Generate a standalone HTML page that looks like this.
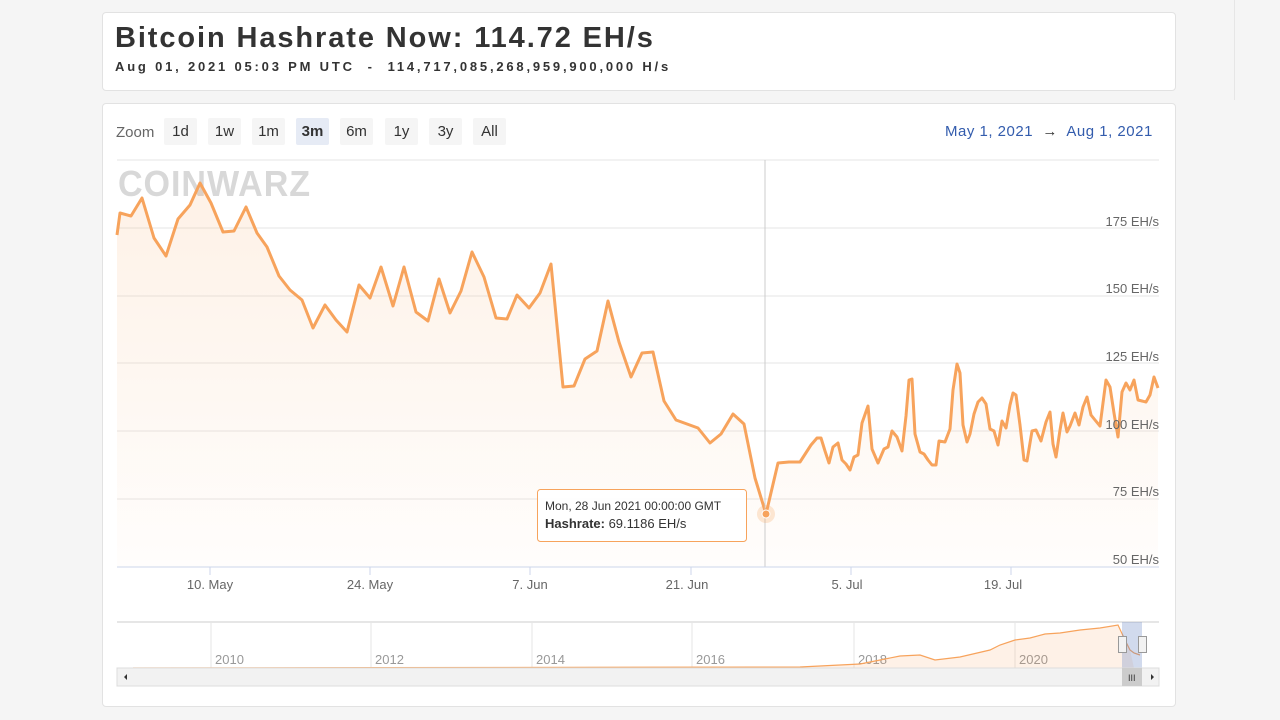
<!DOCTYPE html>
<html><head><meta charset="utf-8"><style>
body{margin:0;width:1280px;height:720px;background:#f5f5f5;font-family:"Liberation Sans",sans-serif;position:relative;overflow:hidden}
.card{position:absolute;background:#fff;border:1px solid #e2e2e2;border-radius:4px}
h1{position:absolute;left:12px;top:9px;margin:0;font-size:29px;font-weight:bold;letter-spacing:1.9px;color:#333}
.sub{position:absolute;left:12px;top:46px;font-size:13px;letter-spacing:2.8px;color:#333;font-weight:bold}
.btn{position:absolute;top:118px;height:27px;width:33px;background:#f5f5f5;border-radius:2px;font-size:15px;color:#333;text-align:center;line-height:27px}
</style></head><body>
<div class="card" style="left:102px;top:12px;width:1072px;height:77px">
<h1>Bitcoin Hashrate Now: 114.72 EH/s</h1>
<div class="sub">Aug 01, 2021 05:03 PM UTC &nbsp;-&nbsp; 114,717,085,268,959,900,000 H/s</div>
</div>
<div style="position:absolute;left:1234px;top:0;width:1px;height:100px;background:#e6e6e6"></div>
<div class="card" style="left:102px;top:103px;width:1072px;height:602px"></div>
<div style="position:absolute;left:116px;top:124px;font-size:15px;color:#666">Zoom</div>
<div class="btn" style="left:164px">1d</div>
<div class="btn" style="left:208px">1w</div>
<div class="btn" style="left:252px">1m</div>
<div class="btn" style="left:296px;background:#e6ebf5;font-weight:bold">3m</div>
<div class="btn" style="left:340px">6m</div>
<div class="btn" style="left:385px">1y</div>
<div class="btn" style="left:429px">3y</div>
<div class="btn" style="left:473px">All</div>
<div style="position:absolute;left:945px;top:123px;font-size:15px;color:#335cad;letter-spacing:0.5px">May 1, 2021 &nbsp;<span style="color:#333">→</span>&nbsp; Aug 1, 2021</div>
<svg width="1280" height="720" style="position:absolute;left:0;top:0">
<defs><linearGradient id="g" x1="0" y1="0" x2="0" y2="1"><stop offset="0" stop-color="#f7a35c" stop-opacity="0.15"/><stop offset="1" stop-color="#f7a35c" stop-opacity="0.02"/></linearGradient></defs>
<g stroke="#e6e6e6" stroke-width="1">
<line x1="117" y1="160" x2="1159" y2="160"/><line x1="117" y1="228" x2="1159" y2="228"/><line x1="117" y1="296" x2="1159" y2="296"/><line x1="117" y1="363" x2="1159" y2="363"/><line x1="117" y1="431" x2="1159" y2="431"/><line x1="117" y1="499" x2="1159" y2="499"/>
</g>
<text x="118" y="196" font-size="36" font-weight="bold" fill="#d8d8d8" font-family="Liberation Sans" letter-spacing="1" textLength="193" lengthAdjust="spacingAndGlyphs">COINWARZ</text>
<polygon fill="url(#g)" points="117,567 117,235 120,213 131,216 142,198 154,238 166,256 178,219 190,205 200,183 211,203 223,232 234,231 246,207 257,233 267,247 279,276 290,290 302,300 313,328 325,305 336,320 347,332 359,285 370,298 381,267 393,306 404,267 416,312 428,321 439,279 450,313 461,291 472,252 484,277 496,318 507,319 517,295 529,308 540,293 551,264 563,387 574,386 585,359 597,351 608,301 619,342 631,377 642,353 653,352 664,401 676,420 687,424 698,428 710,443 721,434 733,414 744,424 755,478 766,514 778,463 789,462 800,462 811,445 817,438 821,438 825,451 829,463 833,447 838,443 842,460 846,464 850,470 854,457 858,455 862,423 868,406 872,449 878,463 884,449 888,447 892,431 897,437 902,451 906,416 909,380 912,379 915,434 920,452 924,454 928,460 932,465 936,465 939,441 945,442 950,429 953,390 957,364 960,373 963,425 967,442 970,434 974,414 978,402 982,398 986,404 990,429 994,431 998,445 1002,421 1006,428 1010,405 1013,393 1016,395 1020,425 1024,460 1027,461 1032,431 1036,430 1041,441 1046,422 1050,412 1053,444 1056,457 1060,430 1063,413 1067,432 1070,426 1075,413 1079,425 1083,407 1087,397 1091,415 1095,420 1100,426 1106,380 1110,387 1114,413 1118,437 1122,392 1126,383 1130,390 1134,380 1138,400 1142,401 1146,402 1150,395 1154,377 1158,388 1158,567"/>
<polyline fill="none" stroke="#f7a35c" stroke-width="3" stroke-linejoin="round" points="117,235 120,213 131,216 142,198 154,238 166,256 178,219 190,205 200,183 211,203 223,232 234,231 246,207 257,233 267,247 279,276 290,290 302,300 313,328 325,305 336,320 347,332 359,285 370,298 381,267 393,306 404,267 416,312 428,321 439,279 450,313 461,291 472,252 484,277 496,318 507,319 517,295 529,308 540,293 551,264 563,387 574,386 585,359 597,351 608,301 619,342 631,377 642,353 653,352 664,401 676,420 687,424 698,428 710,443 721,434 733,414 744,424 755,478 766,514 778,463 789,462 800,462 811,445 817,438 821,438 825,451 829,463 833,447 838,443 842,460 846,464 850,470 854,457 858,455 862,423 868,406 872,449 878,463 884,449 888,447 892,431 897,437 902,451 906,416 909,380 912,379 915,434 920,452 924,454 928,460 932,465 936,465 939,441 945,442 950,429 953,390 957,364 960,373 963,425 967,442 970,434 974,414 978,402 982,398 986,404 990,429 994,431 998,445 1002,421 1006,428 1010,405 1013,393 1016,395 1020,425 1024,460 1027,461 1032,431 1036,430 1041,441 1046,422 1050,412 1053,444 1056,457 1060,430 1063,413 1067,432 1070,426 1075,413 1079,425 1083,407 1087,397 1091,415 1095,420 1100,426 1106,380 1110,387 1114,413 1118,437 1122,392 1126,383 1130,390 1134,380 1138,400 1142,401 1146,402 1150,395 1154,377 1158,388"/>
<g font-size="13" fill="#666" text-anchor="end"><text x="1159" y="226">175 EH/s</text><text x="1159" y="293">150 EH/s</text><text x="1159" y="361">125 EH/s</text><text x="1159" y="429">100 EH/s</text><text x="1159" y="496">75 EH/s</text><text x="1159" y="564">50 EH/s</text></g>
<line x1="765" y1="160" x2="765" y2="567" stroke="#ccc"/>
<line x1="117" y1="567" x2="1159" y2="567" stroke="#ccd6eb"/>
<g stroke="#ccd6eb"><line x1="210" y1="567" x2="210" y2="575"/><line x1="370" y1="567" x2="370" y2="575"/><line x1="530" y1="567" x2="530" y2="575"/><line x1="691" y1="567" x2="691" y2="575"/><line x1="851" y1="567" x2="851" y2="575"/><line x1="1011" y1="567" x2="1011" y2="575"/></g>
<g font-size="13" fill="#666" text-anchor="middle"><text x="210" y="589">10. May</text><text x="370" y="589">24. May</text><text x="530" y="589">7. Jun</text><text x="687" y="589">21. Jun</text><text x="847" y="589">5. Jul</text><text x="1003" y="589">19. Jul</text></g>
<circle cx="766" cy="514" r="9" fill="#f7a35c" opacity="0.25"/><circle cx="766" cy="514" r="4" fill="#f7a35c" stroke="#fff"/>
<rect x="537.5" y="489.5" width="209" height="52" rx="3" fill="#fff" fill-opacity="0.95" stroke="#f7a35c"/>
<text x="545" y="510" font-size="12" fill="#333">Mon, 28 Jun 2021 00:00:00 GMT</text>
<text x="545" y="528" font-size="13" fill="#333"><tspan font-weight="bold">Hashrate:</tspan> 69.1186 EH/s</text>
<line x1="117" y1="622" x2="1159" y2="622" stroke="#ccc"/>
<g stroke="#e6e6e6"><line x1="211" y1="622" x2="211" y2="668"/><line x1="371" y1="622" x2="371" y2="668"/><line x1="532" y1="622" x2="532" y2="668"/><line x1="692" y1="622" x2="692" y2="668"/><line x1="854" y1="622" x2="854" y2="668"/><line x1="1015" y1="622" x2="1015" y2="668"/></g>
<g font-size="13" fill="#999"><text x="215" y="664">2010</text><text x="375" y="664">2012</text><text x="536" y="664">2014</text><text x="696" y="664">2016</text><text x="858" y="664">2018</text><text x="1019" y="664">2020</text></g>
<polygon fill="#f7a35c" fill-opacity="0.15" points="133,668 800,667 860,664 880,660 900,656 920,655 935,660 960,657 990,650 1000,645 1015,640 1030,638 1045,634 1060,633 1080,630 1100,628 1118,625 1125,640 1130,650 1134,668"/>
<polyline fill="none" stroke="#f7a35c" stroke-width="1.2" points="133,668 800,667 860,664 880,660 900,656 920,655 935,660 960,657 990,650 1000,645 1015,640 1030,638 1045,634 1060,633 1080,630 1100,628 1118,625 1125,640 1130,650 1134,653 1140,655"/>
<rect x="1122" y="622" width="20" height="46" fill="#6685c2" fill-opacity="0.3"/>
<rect x="1118.5" y="636.5" width="8" height="16" fill="#f2f2f2" stroke="#999"/><rect x="1138.5" y="636.5" width="8" height="16" fill="#f2f2f2" stroke="#999"/>
<rect x="117" y="668" width="1042" height="18" fill="#f2f2f2" stroke="#ddd"/>
<rect x="1122" y="668" width="20" height="18" fill="#ccc"/>
<text x="1128" y="681" font-size="9" fill="#333">III</text>
<path d="M127,674 l-3,3 l3,3z M1151,674 l3,3 l-3,3z" fill="#333"/>
</svg>
</body></html>
